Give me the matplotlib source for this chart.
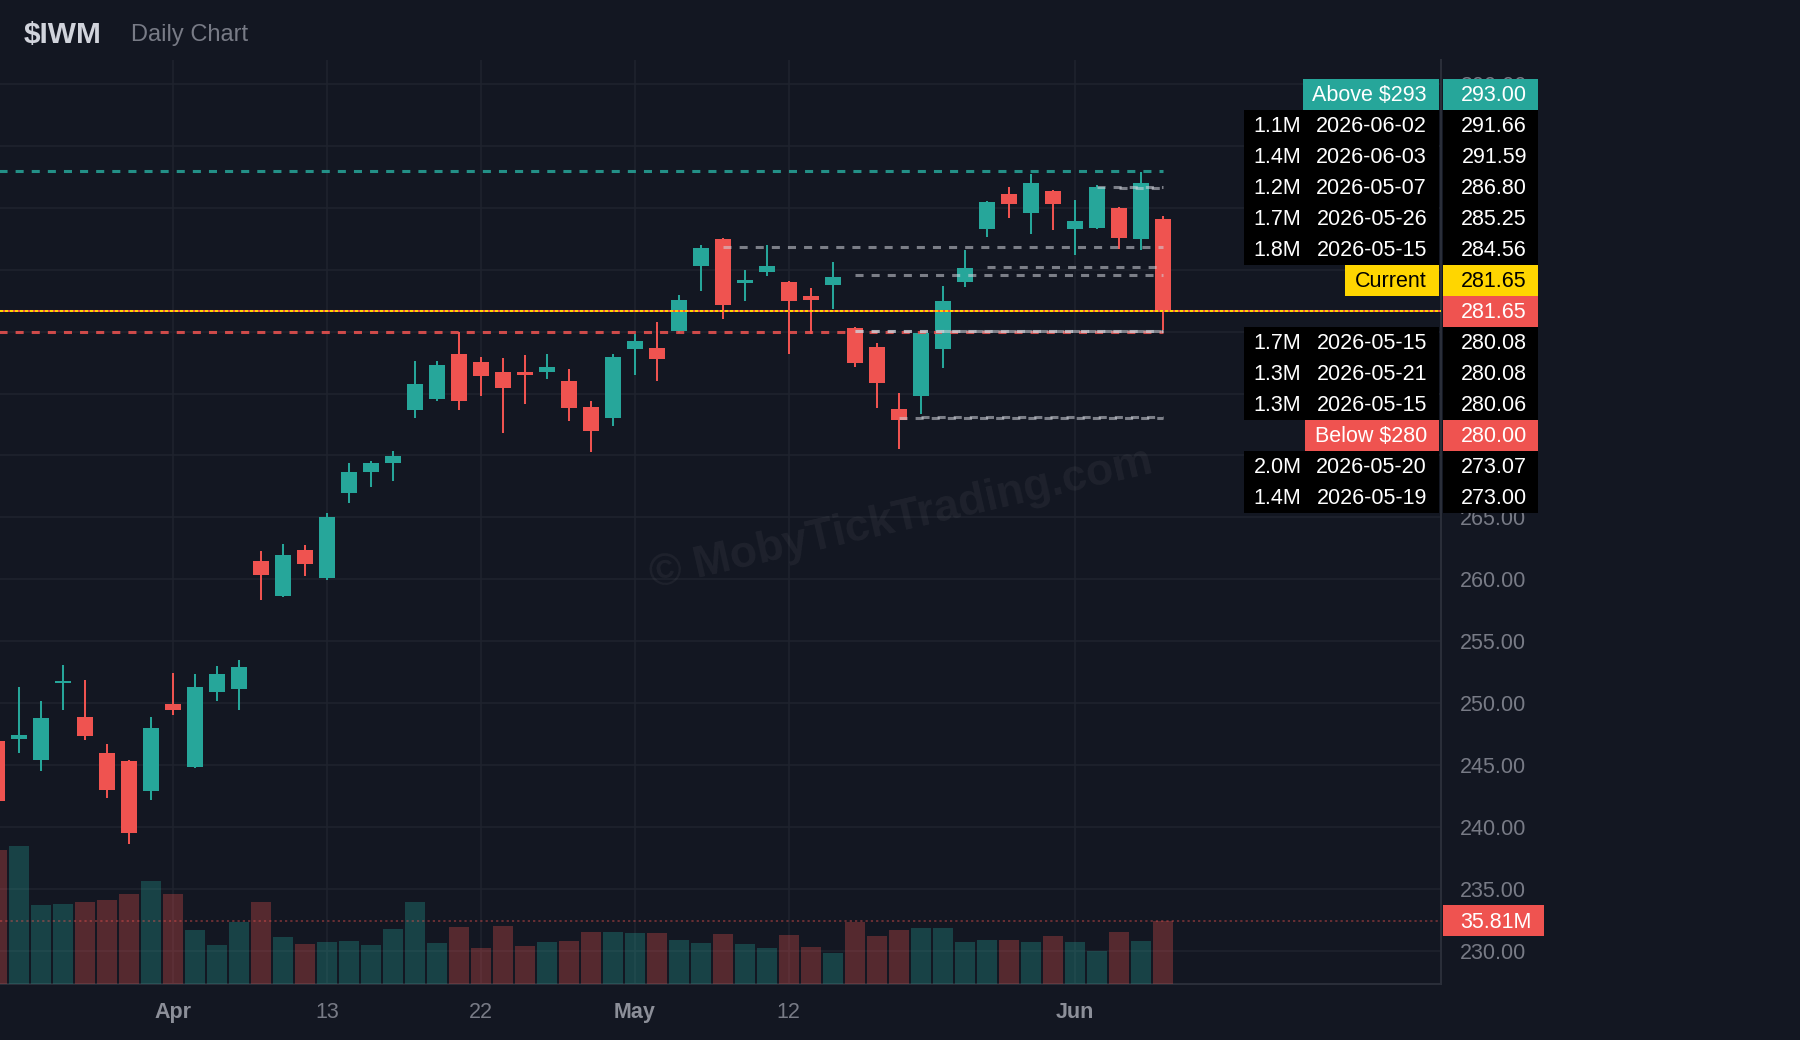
import matplotlib
matplotlib.use('Agg')
import matplotlib.pyplot as plt
from matplotlib.patches import Rectangle
import numpy as np

plt.rcParams['font.family'] = ['Liberation Sans', 'DejaVu Sans']
plt.rcParams['lines.scale_dashes'] = False

# daily bars, trading days only
dates = ['2026-03-20', '2026-03-23', '2026-03-24', '2026-03-25', '2026-03-26', '2026-03-27',
         '2026-03-30', '2026-03-31', '2026-04-01', '2026-04-02', '2026-04-06', '2026-04-07',
         '2026-04-08', '2026-04-09', '2026-04-10', '2026-04-13', '2026-04-14', '2026-04-15',
         '2026-04-16', '2026-04-17', '2026-04-20', '2026-04-21', '2026-04-22', '2026-04-23',
         '2026-04-24', '2026-04-27', '2026-04-28', '2026-04-29', '2026-04-30', '2026-05-01',
         '2026-05-04', '2026-05-05', '2026-05-06', '2026-05-07', '2026-05-08', '2026-05-11',
         '2026-05-12', '2026-05-13', '2026-05-14', '2026-05-15', '2026-05-18', '2026-05-19',
         '2026-05-20', '2026-05-21', '2026-05-22', '2026-05-26', '2026-05-27', '2026-05-28',
         '2026-05-29', '2026-06-01', '2026-06-02', '2026-06-03', '2026-06-04', '2026-06-05']
opens = [246.95, 247.10, 245.42, 251.63, 248.89, 245.98, 245.33, 242.92, 249.94, 244.85,
         250.91, 251.15, 261.48, 258.65, 262.37, 260.11, 266.97, 268.67, 269.39, 273.68,
         274.56, 278.20, 277.55, 276.75, 276.75, 276.75, 276.02, 273.92, 273.03, 278.60,
         278.68, 280.05, 285.30, 287.48, 283.93, 284.82, 284.01, 282.88, 283.77, 280.30,
         278.76, 273.76, 274.80, 278.60, 284.01, 288.29, 291.12, 289.58, 291.36, 288.29,
         288.37, 290.00, 287.48, 289.10]
highs = [247.50, 251.31, 250.18, 253.08, 251.87, 246.71, 245.40, 248.89, 252.44, 252.36,
         253.00, 253.49, 262.29, 262.85, 262.77, 265.36, 269.39, 269.56, 270.36, 277.63,
         277.63, 280.00, 277.96, 277.88, 278.12, 278.20, 276.99, 274.40, 278.20, 279.81,
         280.78, 282.96, 287.00, 287.56, 284.98, 287.00, 284.05, 283.53, 285.62, 280.40,
         279.08, 275.05, 279.95, 283.69, 286.59, 290.55, 291.68, 292.73, 291.40, 290.63,
         291.85, 290.05, 292.89, 289.34]
lows = [241.60, 245.98, 244.53, 249.45, 247.03, 242.35, 238.63, 242.19, 249.05, 244.77,
        250.18, 249.45, 258.33, 258.60, 260.27, 259.95, 266.16, 267.46, 267.94, 273.03,
        274.40, 273.68, 274.80, 271.82, 274.15, 276.18, 272.79, 270.28, 272.38, 276.50,
        276.02, 279.89, 283.28, 281.02, 282.48, 284.50, 278.20, 279.81, 281.83, 277.15,
        273.84, 270.53, 273.35, 277.07, 283.61, 287.64, 289.18, 287.89, 288.21, 286.19,
        288.29, 286.67, 286.59, 280.13]
closes = [242.10, 247.43, 248.81, 251.79, 247.35, 243.00, 239.52, 248.00, 249.45, 251.31,
          252.36, 252.92, 260.35, 261.97, 261.24, 265.03, 268.67, 269.39, 269.96, 275.78,
          277.31, 274.40, 276.42, 275.46, 276.50, 277.15, 273.84, 271.98, 277.96, 279.24,
          277.79, 282.56, 286.75, 282.15, 284.17, 285.30, 282.48, 282.56, 284.41, 277.47,
          275.86, 272.87, 279.89, 282.48, 285.14, 290.47, 290.31, 292.01, 290.31, 288.94,
          291.68, 287.56, 292.01, 281.65]
volumes = [76.2, 78.5, 44.9, 45.5, 46.6, 47.8, 51.2, 58.6, 51.2, 30.7,
           22.2, 35.2, 46.6, 26.7, 22.7, 23.9, 24.4, 22.2, 31.3, 46.6,
           23.3, 32.4, 20.5, 33.0, 21.6, 23.9, 24.4, 29.6, 29.6, 29.0,
           29.0, 25.0, 23.3, 28.4, 22.7, 20.5, 27.9, 21.0, 17.6, 35.2,
           27.3, 30.7, 31.8, 31.8, 23.9, 25.0, 25.0, 23.9, 27.3, 23.9,
           18.8, 29.6, 24.4, 35.81]  # millions

tick_dates = ['2026-04-01', '2026-04-13', '2026-04-22', '2026-05-01', '2026-05-12', '2026-06-01']
tick_labels = ['Apr', '13', '22', 'May', '12', 'Jun']

# levels shown on the right
level_vol = ['1.1M', '1.4M', '1.2M', '1.7M', '1.8M', '1.7M', '1.3M', '1.3M', '2.0M', '1.4M']
level_date = ['2026-06-02', '2026-06-03', '2026-05-07', '2026-05-26', '2026-05-15',
              '2026-05-15', '2026-05-21', '2026-05-15', '2026-05-20', '2026-05-19']
level_price = [291.66, 291.59, 286.80, 285.25, 284.56, 280.08, 280.08, 280.06, 273.07, 273.00]
above_level = 293.00
below_level = 280.00
current = 281.65

BG = '#131722'
UP = '#26a69a'
DOWN = '#ef5350'
GRID = '#1f232e'
TXT = '#787b86'
YEL = '#ffd600'

W, H = 1800, 1040
fig = plt.figure(figsize=(W / 100, H / 100), dpi=100, facecolor=BG)
ax = fig.add_axes([0, 56 / H, 1441 / W, 924 / H])
ax.set_facecolor(BG)

x = np.arange(len(dates))
o = np.array(opens)
c = np.array(closes)
col = np.where(c >= o, UP, DOWN)
last = len(dates) - 1

# candles
ax.vlines(x, lows, highs, colors=col, lw=1.45, zorder=2)
ax.bar(x, np.maximum(np.abs(c - o), 0.12), bottom=np.minimum(o, c), width=0.73,
       color=col, linewidth=0, zorder=3)

# level lines
dash = [(0, (5.8, 5.8))]
ax.hlines(above_level, 0, last, colors=UP, alpha=0.85, lw=2.2, linestyles=dash, zorder=4)
ax.hlines(below_level, 0, last, colors=DOWN, alpha=0.85, lw=2.2, linestyles=dash, zorder=4)
for p, d in zip(level_price, level_date):
    ax.hlines(p, dates.index(d), last, colors='#d1d4dc', alpha=0.55, lw=2.2,
              linestyles=dash, zorder=5)
ax.axhline(current, color=DOWN, lw=1.45, zorder=6)
ax.axhline(current, color=YEL, lw=1.45, ls=(0, (2.2, 1.4)), zorder=6)

ax.set_xlim(0.145, 65.65)
ax.set_ylim(227.33, 301.93)

# volume pane
axv = ax.twinx()
axv.set_ylim(0, 525)
axv.bar(x, volumes, width=0.9, color=col, alpha=0.3, linewidth=0)
axv.axhline(volumes[-1], color=DOWN, alpha=0.5, lw=1.1, ls=(0, (1.6, 2.2)))
axv.set_yticks([])
for sp in axv.spines.values():
    sp.set_visible(False)

# axes styling
ax.yaxis.tick_right()
yt = np.arange(230, 301, 5)
ax.set_yticks(yt)
ax.set_xticks([dates.index(d) for d in tick_dates])
ax.set_xticklabels(tick_labels)
ax.tick_params(axis='y', length=0, pad=13.7, labelsize=15.5, labelcolor=TXT)
ax.tick_params(axis='x', length=0, pad=13.2, labelsize=15.5, labelcolor=TXT)
for t in ax.get_xticklabels():
    if not t.get_text().isdigit():
        t.set_fontweight('bold')
        t.set_color('#8c8f99')
ax.grid(True, color=GRID, lw=1.1)
ax.set_axisbelow(True)
for s in ['top', 'left']:
    ax.spines[s].set_visible(False)
for s in ['right', 'bottom']:
    ax.spines[s].set_color('#2a2e39')
    ax.spines[s].set_linewidth(1.5)

ax.text(901 / W, 1 - 519 / H, '\u00a9 MobyTickTrading.com', transform=fig.transFigure,
        rotation=13, ha='center', va='center', fontsize=32, fontweight='bold',
        color='white', alpha=0.05, zorder=1)

fig.text(24 / W, 1 - 32 / H, '$IWM', fontsize=21.5, fontweight='bold', color='#d1d4dc',
         va='center_baseline')
fig.text(131 / W, 1 - 33 / H, 'Daily Chart', fontsize=17, color=TXT, va='center_baseline')

# right side label stack
renderer = fig.canvas.get_renderer()
ROW = 31
TXT_DY = -1.2  # small lift of text inside the tags


def add_box(x0, x1, yc, color):
    fig.add_artist(Rectangle((x0 / W, 1 - (yc + ROW / 2) / H), (x1 - x0) / W, ROW / H,
                             transform=fig.transFigure, facecolor=color,
                             edgecolor='none', zorder=5))


def add_text(xp, yc, s, color, ha):
    return fig.text(xp / W, 1 - (yc + TXT_DY) / H, s, color=color, ha=ha,
                    va='center_baseline', fontsize=15.5, zorder=6)


def tag_row(yc, label, value, bg, fg):
    t = add_text(1427, yc, label, fg, 'right')
    x0 = t.get_window_extent(renderer).x0 - 10
    add_box(x0, 1439, yc, bg)
    add_box(1442.5, 1537.5, yc, bg)
    add_text(1527, yc, value, fg, 'right')


def level_row(yc, vol, date, price):
    add_box(1244, 1439, yc, '#000000')
    add_box(1442.5, 1537.5, yc, '#000000')
    add_text(1253.6, yc, vol, 'white', 'left')
    add_text(1427, yc, date, 'white', 'right')
    add_text(1527, yc, f'{price:.2f}', 'white', 'right')


items = [(p, ('level', v, d)) for p, v, d in zip(level_price, level_vol, level_date)]
items.append((above_level, ('above', f'Above ${above_level:.0f}', None)))
items.append((below_level, ('below', f'Below ${below_level:.0f}', None)))
items.sort(key=lambda it: -it[0])
upper = [it for it in items if it[0] > current] + [(current, ('current', 'Current', None))]
lower = [it for it in items if it[0] < current]

ycur = H - ax.transData.transform((0, current))[1]
stack_top = ycur - len(upper) * ROW - ROW / 2
stack_bot = ycur + len(lower) * ROW + ROW / 2

# price scale labels: the ones fully under the tag stack are not visible
ylabels = []
for v in yt:
    yp = H - ax.transData.transform((0, v))[1]
    ylabels.append('' if stack_top + 8 < yp < stack_bot - 8 else f'{v:.2f}')
ax.set_yticklabels(ylabels)


def draw_item(yc, p, info):
    kind, a, b = info
    if kind == 'level':
        level_row(yc, a, b, p)
    elif kind == 'above':
        tag_row(yc, a, f'{p:.2f}', UP, 'white')
    elif kind == 'below':
        tag_row(yc, a, f'{p:.2f}', DOWN, 'white')
    else:
        tag_row(yc, a, f'{p:.2f}', YEL, 'black')


for j, (p, info) in enumerate(upper):
    draw_item(ycur - (len(upper) - j) * ROW, p, info)
for j, (p, info) in enumerate(lower):
    draw_item(ycur + (j + 1) * ROW, p, info)

# last price tag
add_box(1442.5, 1537.5, ycur, DOWN)
add_text(1527, ycur, f'{current:.2f}', 'white', 'right')

# last volume tag
yvol = H - axv.transData.transform((0, volumes[-1]))[1]
add_box(1442.5, 1543.5, yvol, DOWN)
add_text(1460, yvol, f'{volumes[-1]:.2f}M', 'white', 'left')

fig.savefig('out.png', dpi=100, facecolor=BG)
